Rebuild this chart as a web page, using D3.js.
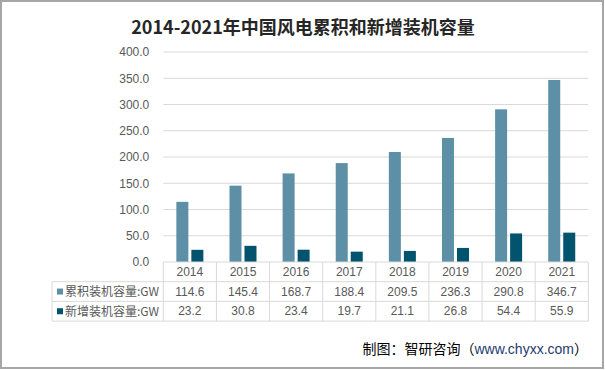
<!DOCTYPE html>
<html>
<head>
<meta charset="utf-8">
<script src="https://cdn.jsdelivr.net/npm/d3@7"></script>
<style>
  body { margin: 0; background: #fff; }
  svg text { font-family: "Liberation Sans", "Noto Sans CJK SC", sans-serif; }
</style>
</head>
<body>
<div id="chart"></div>
<script>
// chart data
var years = ["2014", "2015", "2016", "2017", "2018", "2019", "2020", "2021"];
var seriesNames = ["累积装机容量:GW", "新增装机容量:GW"];
var cumulative = [114.6, 145.4, 168.7, 188.4, 209.5, 236.3, 290.8, 346.7];
var added = [23.2, 30.8, 23.4, 19.7, 21.1, 26.8, 54.4, 55.9];
var yTicks = [0, 50, 100, 150, 200, 250, 300, 350, 400];
var colors = ["#5d90a7", "#02536e"];

var W = 605, H = 370;
// plot box (note: "top" is reserved on window, so use plot* names)
var plotLeft = 163.3, plotRight = 588.3, plotTop = 52, plotBottom = 262;
var rowH = 19.7;

var svg = d3.select("#chart").append("svg")
    .attr("width", W)
    .attr("height", H);

// outer border
svg.append("rect")
    .attr("x", 1).attr("y", 1)
    .attr("width", W - 3).attr("height", H - 3)
    .attr("fill", "#fff")
    .attr("stroke", "#a6a6a6")
    .attr("stroke-width", 2);

// title
svg.append("text")
    .attr("x", 303).attr("y", 34)
    .attr("text-anchor", "middle")
    .style("font-family", "'Noto Sans CJK SC', sans-serif")
    .style("font-size", "18px")
    .style("font-weight", "bold")
    .attr("fill", "#262626")
    .text("2014-2021年中国风电累积和新增装机容量");

// scales
var x = d3.scaleBand().domain(years).range([plotLeft, plotRight]);
var x1 = d3.scaleBand().domain([0, 1]).range([0, x.bandwidth()])
    .paddingInner(0.2).paddingOuter(0.87);
var y = d3.scaleLinear().domain([0, 400]).range([plotBottom, plotTop]);

// grid lines
svg.append("g")
  .selectAll("line")
  .data(yTicks.slice(1))
  .enter().append("line")
    .attr("x1", plotLeft).attr("x2", plotRight)
    .attr("y1", function(d) { return y(d); })
    .attr("y2", function(d) { return y(d); })
    .attr("stroke", "#d9d9d9")
    .attr("stroke-width", 1);

// y axis labels
var yAxis = d3.axisLeft(y)
    .tickValues(yTicks)
    .tickFormat(d3.format(".1f"))
    .tickSize(0)
    .tickPadding(14);
var yg = svg.append("g")
    .attr("transform", "translate(" + plotLeft + ",0)")
    .call(yAxis);
yg.select(".domain").remove();
yg.selectAll("text")
    .attr("fill", "#595959")
    .style("font-size", "12px");

// bars
var seriesData = [cumulative, added];
seriesData.forEach(function(vals, si) {
  svg.append("g")
    .selectAll("rect")
    .data(vals)
    .enter().append("rect")
      .attr("x", function(d, i) { return x(years[i]) + x1(si); })
      .attr("width", x1.bandwidth())
      .attr("y", function(d) { return y(d); })
      .attr("height", function(d) { return plotBottom - y(d); })
      .attr("fill", colors[si]);
});

// data table
var tbl = svg.append("g");
var lineColor = "#d9d9d9";
var tableLeft = 52;
var tableBottom = plotBottom + rowH * 3;

// horizontal lines
tbl.append("line")
    .attr("x1", plotLeft).attr("x2", plotRight)
    .attr("y1", plotBottom).attr("y2", plotBottom)
    .attr("stroke", lineColor);
[1, 2, 3].forEach(function(r) {
  tbl.append("line")
    .attr("x1", tableLeft).attr("x2", plotRight)
    .attr("y1", plotBottom + rowH * r).attr("y2", plotBottom + rowH * r)
    .attr("stroke", lineColor);
});
// vertical lines
years.forEach(function(yr) {
  tbl.append("line")
    .attr("x1", x(yr)).attr("x2", x(yr))
    .attr("y1", plotBottom).attr("y2", tableBottom)
    .attr("stroke", lineColor);
});
tbl.append("line")
    .attr("x1", plotRight).attr("x2", plotRight)
    .attr("y1", plotBottom).attr("y2", tableBottom)
    .attr("stroke", lineColor);
tbl.append("line")
    .attr("x1", tableLeft).attr("x2", tableLeft)
    .attr("y1", plotBottom + rowH).attr("y2", tableBottom)
    .attr("stroke", lineColor);

// header row (years)
tbl.selectAll(".yr")
  .data(years)
  .enter().append("text")
    .attr("class", "yr")
    .attr("x", function(d) { return x(d) + x.bandwidth() / 2; })
    .attr("y", plotBottom + rowH / 2 + 4)
    .attr("text-anchor", "middle")
    .attr("fill", "#595959")
    .style("font-size", "12px")
    .text(function(d) { return d; });

// value rows
seriesData.forEach(function(vals, si) {
  var cy = plotBottom + rowH * (si + 1) + rowH / 2;
  tbl.append("rect")
    .attr("x", 57).attr("y", cy - 3)
    .attr("width", 6).attr("height", 6)
    .attr("fill", colors[si]);
  tbl.append("text")
    .attr("x", 65).attr("y", cy + 4.5)
    .attr("fill", "#595959")
    .style("font-family", "'Noto Sans CJK SC', sans-serif")
    .style("font-size", "12px")
    .text(seriesNames[si]);
  tbl.selectAll(".v" + si)
    .data(vals)
    .enter().append("text")
      .attr("class", "v" + si)
      .attr("x", function(d, i) { return x(years[i]) + x.bandwidth() / 2; })
      .attr("y", cy + 4)
      .attr("text-anchor", "middle")
      .attr("fill", "#595959")
      .style("font-size", "12px")
      .text(function(d) { return d3.format(".1f")(d); });
});

// source note
var src = svg.append("text")
    .attr("x", 588).attr("y", 354)
    .attr("text-anchor", "end")
    .style("font-family", "'Noto Sans CJK SC', sans-serif")
    .style("font-size", "14px")
    .attr("fill", "#000");
src.append("tspan").text("制图：智研咨询（");
src.append("tspan").attr("fill", "#1f3a6e").style("font-family", "'Liberation Sans', sans-serif").text("www.chyxx.com");
src.append("tspan").text("）");
</script>
</body>
</html>
